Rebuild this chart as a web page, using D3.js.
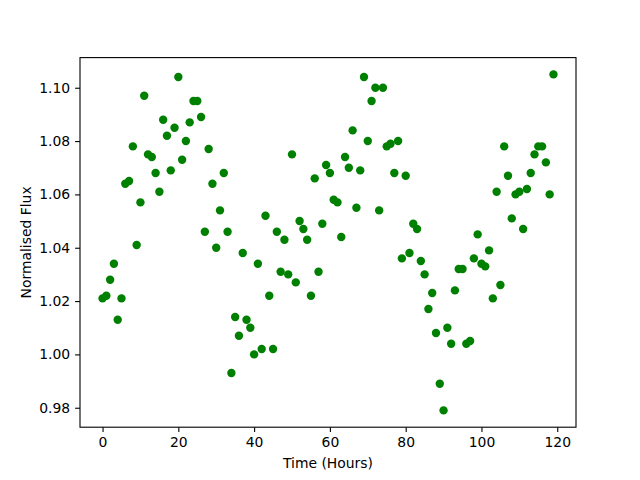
<!DOCTYPE html>
<html>
<head>
<meta charset="utf-8">
<script src="https://cdn.jsdelivr.net/npm/d3@7"></script>
<style>
  body { margin: 0; background: #fff; }
  svg { display: block; font-family: "DejaVu Sans", sans-serif; }
</style>
</head>
<body>
<svg id="chart" width="640" height="480"></svg>
<script>
// hours of observation, one reading per hour
const hours = d3.range(0, 120);
const flux = [
  1.021, 1.022, 1.028, 1.034, 1.013, 1.021, 1.064, 1.065, 1.078, 1.041,
  1.057, 1.097, 1.075, 1.074, 1.068, 1.061, 1.088, 1.082, 1.069, 1.085,
  1.104, 1.073, 1.080, 1.087, 1.095, 1.095, 1.089, 1.046, 1.077, 1.064,
  1.040, 1.054, 1.068, 1.046, 0.993, 1.014, 1.007, 1.038, 1.013, 1.010,
  1.000, 1.034, 1.002, 1.052, 1.022, 1.002, 1.046, 1.031, 1.043, 1.030,
  1.075, 1.027, 1.050, 1.047, 1.043, 1.022, 1.066, 1.031, 1.049, 1.071,
  1.068, 1.058, 1.057, 1.044, 1.074, 1.070, 1.084, 1.055, 1.069, 1.104,
  1.080, 1.095, 1.100, 1.054, 1.100, 1.078, 1.079, 1.068, 1.080, 1.036,
  1.067, 1.038, 1.049, 1.047, 1.035, 1.030, 1.017, 1.023, 1.008, 0.989,
  0.979, 1.010, 1.004, 1.024, 1.032, 1.032, 1.004, 1.005, 1.036, 1.045,
  1.034, 1.033, 1.039, 1.021, 1.061, 1.026, 1.078, 1.067, 1.051, 1.060,
  1.061, 1.047, 1.062, 1.068, 1.075, 1.078, 1.078, 1.072, 1.060, 1.105
];
const xTicks = [0, 20, 40, 60, 80, 100, 120];
const yTicks = [0.98, 1.00, 1.02, 1.04, 1.06, 1.08, 1.10];

const PLOT_L = 80, PLOT_R = 576, PLOT_T = 57.6, PLOT_B = 427.2;
const FONT = 13.9;

const svg = d3.select('#chart');

function padded(ext) {
  const m = (ext[1] - ext[0]) * 0.05;
  return [ext[0] - m, ext[1] + m];
}

const x = d3.scaleLinear().domain(padded(d3.extent(hours))).range([PLOT_L, PLOT_R]);
const y = d3.scaleLinear().domain(padded(d3.extent(flux))).range([PLOT_B, PLOT_T]);

const data = hours.map((h, i) => ({ h: h, f: flux[i] }));

svg.append('g').selectAll('circle').data(data).enter()
  .append('circle')
  .attr('cx', d => x(d.h))
  .attr('cy', d => y(d.f))
  .attr('r', 4.2)
  .attr('fill', '#008000');

// frame
svg.append('rect')
  .attr('x', PLOT_L).attr('y', PLOT_T)
  .attr('width', PLOT_R - PLOT_L).attr('height', PLOT_B - PLOT_T)
  .attr('fill', 'none').attr('stroke', '#000').attr('stroke-width', 1.1);

const xAxis = svg.append('g').attr('transform', `translate(0,${PLOT_B})`)
  .call(d3.axisBottom(x).tickValues(xTicks).tickSize(4.9).tickPadding(4.9).tickFormat(d3.format('d')));
const yAxis = svg.append('g').attr('transform', `translate(${PLOT_L},0)`)
  .call(d3.axisLeft(y).tickValues(yTicks).tickSize(4.9).tickPadding(4.9).tickFormat(d3.format('.2f')));

[xAxis, yAxis].forEach(g => {
  g.select('.domain').remove();
  g.selectAll('line').attr('stroke', '#000').attr('stroke-width', 1.1);
  g.selectAll('text').attr('font-size', FONT).attr('font-family', '"DejaVu Sans", sans-serif').attr('fill', '#000');
});

svg.append('text')
  .attr('x', (PLOT_L + PLOT_R) / 2).attr('y', 468)
  .attr('text-anchor', 'middle').attr('font-size', FONT)
  .text('Time (Hours)');

svg.append('text')
  .attr('transform', `translate(31,${(PLOT_T + PLOT_B) / 2}) rotate(-90)`)
  .attr('text-anchor', 'middle').attr('font-size', FONT)
  .text('Normalised Flux');
</script>
</body>
</html>
